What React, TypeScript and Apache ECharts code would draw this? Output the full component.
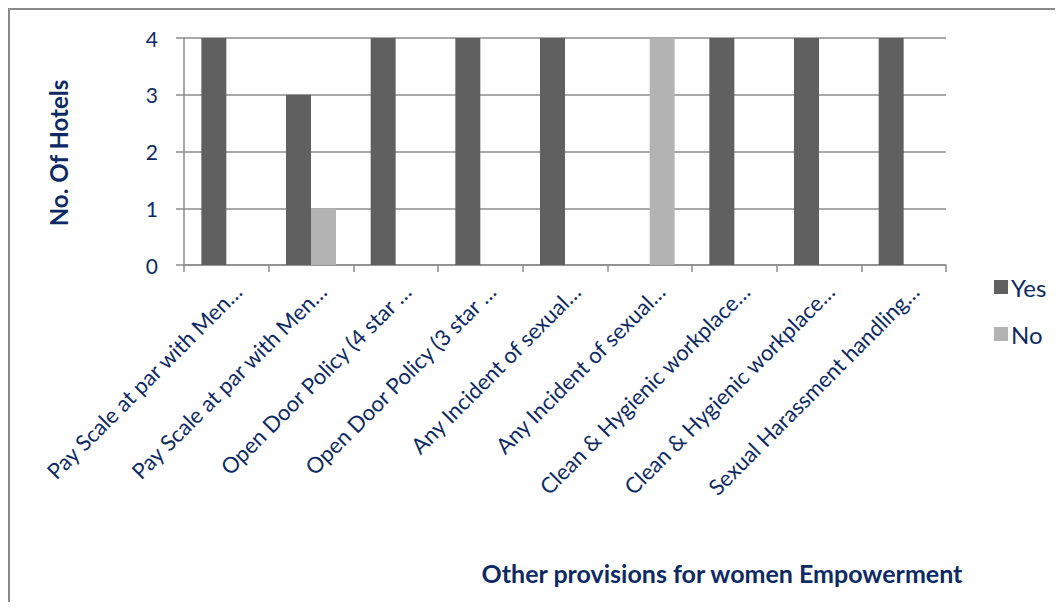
import React, { useEffect, useRef } from "react";
import * as echarts from "echarts";

const categories = [
  "Pay Scale at par with Men…",
  "Pay Scale at par with Men…",
  "Open Door Policy (4 star …",
  "Open Door Policy (3 star …",
  "Any Incident of sexual…",
  "Any Incident of sexual…",
  "Clean & Hygienic workplace…",
  "Clean & Hygienic workplace…",
  "Sexual Harassment handling…",
];
const yesValues = [4, 3, 4, 4, 4, 0, 4, 4, 4];
const noValues = [0, 1, 0, 0, 0, 4, 0, 0, 0];
const yTicks = [0, 1, 2, 3, 4];
const yAxisTitle = "No. Of Hotels";
const xAxisTitle = "Other provisions for women Empowerment";

const TEXT = "#0e2a64";
const GRID = "#8c8c8c";
const FONT = "Lato";

export default function App() {
  const ref = useRef<HTMLDivElement>(null);
  useEffect(() => {
    if (!ref.current) return;
    const chart = echarts.init(ref.current, undefined, { renderer: "svg" });
    chart.setOption({
      animation: false,
      backgroundColor: "#ffffff",
      grid: { left: 176, top: 30, width: 762, height: 227, containLabel: false },
      legend: {
        orient: "vertical",
        left: 981,
        top: 260,
        itemWidth: 14,
        itemHeight: 14,
        itemGap: 19,
        icon: "rect",
        textStyle: { color: TEXT, fontFamily: FONT, fontSize: 24, lineHeight: 28, padding: [0, 0, 0, -2] },
        data: ["Yes", "No"],
      },
      xAxis: {
        type: "category",
        data: categories,
        axisLine: { show: true, lineStyle: { color: GRID, width: 1.5 } },
        axisTick: { show: true, length: 7, lineStyle: { color: GRID, width: 1.5 } },
        axisLabel: {
          interval: 0,
          rotate: 45,
          margin: 34,
          color: TEXT,
          fontFamily: FONT,
          fontSize: 22,
          padding: [0, -16, 0, 0],
        },
      },
      yAxis: {
        type: "value",
        min: 0,
        max: yTicks[yTicks.length - 1],
        interval: 1,
        axisLine: { show: true, lineStyle: { color: GRID, width: 1.5 } },
        axisTick: { show: true, length: 8, lineStyle: { color: GRID, width: 1.5 } },
        splitLine: { show: true, lineStyle: { color: GRID, width: 1.5 } },
        axisLabel: { color: TEXT, fontFamily: FONT, fontSize: 21, margin: 26 },
      },
      series: [
        {
          name: "Yes",
          type: "bar",
          data: yesValues,
          barWidth: 25,
          barGap: "0%",
          itemStyle: { color: "#606060" },
        },
        {
          name: "No",
          type: "bar",
          data: noValues,
          barWidth: 25,
          barGap: "0%",
          itemStyle: { color: "#b3b3b3" },
        },
      ],
      graphic: [
        {
          type: "rect",
          shape: { x: 1, y: 1, width: 1200, height: 800 },
          style: { fill: "none", stroke: "#8a8a8a", lineWidth: 2 },
          silent: true,
        },
        {
          type: "text",
          x: 50,
          y: 145,
          rotation: Math.PI / 2,
          style: {
            text: yAxisTitle,
            fill: TEXT,
            font: `bold 24px ${FONT}`,
            textAlign: "center",
            textVerticalAlign: "middle",
          },
        },
        {
          type: "text",
          x: 714,
          y: 565,
          style: {
            text: xAxisTitle,
            fill: TEXT,
            font: `bold 25px ${FONT}`,
            textAlign: "center",
            textVerticalAlign: "middle",
          },
        },
      ],
    });
    return () => chart.dispose();
  }, []);
  return <div ref={ref} style={{ width: 1047, height: 594 }} />;
}
